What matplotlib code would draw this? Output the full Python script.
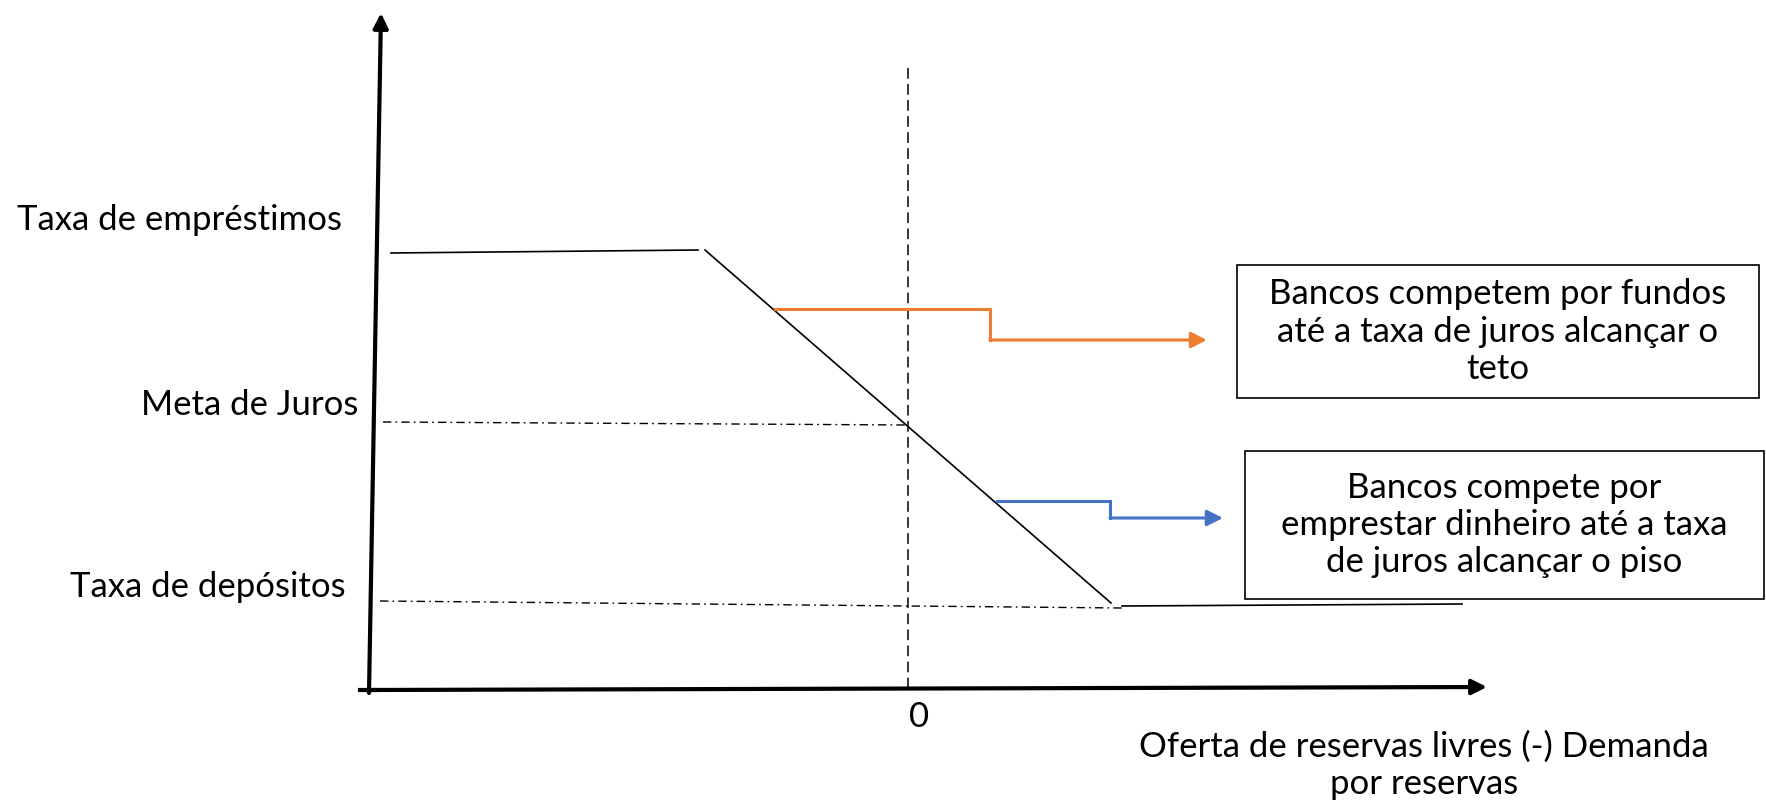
import matplotlib
matplotlib.use("Agg")
import matplotlib.pyplot as plt
from matplotlib.patches import Rectangle

plt.rcParams['font.family'] = ['Lato', 'DejaVu Sans']

W, H = 1766, 801
FS = 25

# diagram coordinates, in pixels of the final picture
yaxis_x = [369, 381]
yaxis_y = [693, 13]
xaxis_x = [366, 1487]
xaxis_y = [690, 687]

zero_x = [908, 908]
zero_y = [68, 690]

# reserve demand curve: ceiling, slope, floor
ceiling_x = [391, 698]
ceiling_y = [253, 250]
slope_x = [705, 1111]
slope_y = [250, 603]
floor_x = [1122, 1462]
floor_y = [606, 604]

target_x = [383, 908]
target_y = [422, 425]
deposit_x = [380, 1122]
deposit_y = [601, 608]

rate_labels = ["Taxa de empréstimos", "Meta de Juros", "Taxa de depósitos"]
rate_label_x = [17, 141, 70]
rate_label_y = [220, 405, 587]

orange_x = [775, 990, 990, 1207]
orange_y = [309, 309, 340, 340]
blue_x = [997, 1110, 1110, 1223]
blue_y = [501, 501, 518, 518]

box_texts = ["Bancos competem por fundos\naté a taxa de juros alcançar o\nteto",
             "Bancos compete por\nemprestar dinheiro até a taxa\nde juros alcançar o piso"]
box_x0 = [1237, 1245]
box_x1 = [1759, 1764]
box_y0 = [265, 451]
box_y1 = [398, 599]

xlabel = "Oferta de reservas livres (-) Demanda\npor reservas"

fig = plt.figure(figsize=(W / 100, H / 100), dpi=100)
ax = fig.add_axes([0, 0, 1, 1])
ax.set_xlim(0, W)
ax.set_ylim(H, 0)
ax.axis('off')

def arrow(x, y, color, lw, ms):
    ax.annotate('', xy=(x[-1], y[-1]), xytext=(x[-2], y[-2]),
                arrowprops=dict(arrowstyle='-|>', color=color, lw=lw,
                                mutation_scale=ms, shrinkA=0, shrinkB=0))

# axes
arrow(yaxis_x, yaxis_y, 'black', 3, 22)
arrow(xaxis_x, xaxis_y, 'black', 3, 22)
ax.plot([xaxis_x[0] - 6, xaxis_x[0] + 10], [xaxis_y[0], xaxis_y[0]], color='black', lw=3)

ax.plot(zero_x, zero_y, color='black', lw=1.1, ls=(0, (7, 3.5)))
ax.text(919, 717, "0", fontsize=FS, ha='center', va='center')

ax.plot(ceiling_x, ceiling_y, color='black', lw=1.2)
ax.plot(slope_x, slope_y, color='black', lw=1.2)
ax.plot(floor_x, floor_y, color='black', lw=1.2)
ax.plot(target_x, target_y, color='black', lw=1.0, ls=(0, (6, 3, 1.2, 3)))
ax.plot(deposit_x, deposit_y, color='black', lw=1.0, ls=(0, (6, 3, 1.2, 3)))

for lab, lx, ly in zip(rate_labels, rate_label_x, rate_label_y):
    ax.text(lx, ly, lab, fontsize=FS, ha='left', va='center')

ax.plot(orange_x[:-1], orange_y[:-1], color='#ED7D31', lw=2.2, solid_joinstyle='miter')
arrow(orange_x, orange_y, '#ED7D31', 2.2, 24)
ax.plot(blue_x[:-1], blue_y[:-1], color='#4472C4', lw=2.2, solid_joinstyle='miter')
arrow(blue_x, blue_y, '#4472C4', 2.2, 24)

for t, x0, x1, y0, y1 in zip(box_texts, box_x0, box_x1, box_y0, box_y1):
    ax.add_patch(Rectangle((x0, y0), x1 - x0, y1 - y0, fill=False,
                           edgecolor='black', lw=1.2))
    ax.text((x0 + x1) / 2, (y0 + y1) / 2, t, fontsize=FS, ha='center',
            va='center', linespacing=1.2)

ax.text(1424, 765, xlabel, fontsize=FS, ha='center', va='center', linespacing=1.2)

fig.savefig("out.png", dpi=100)
